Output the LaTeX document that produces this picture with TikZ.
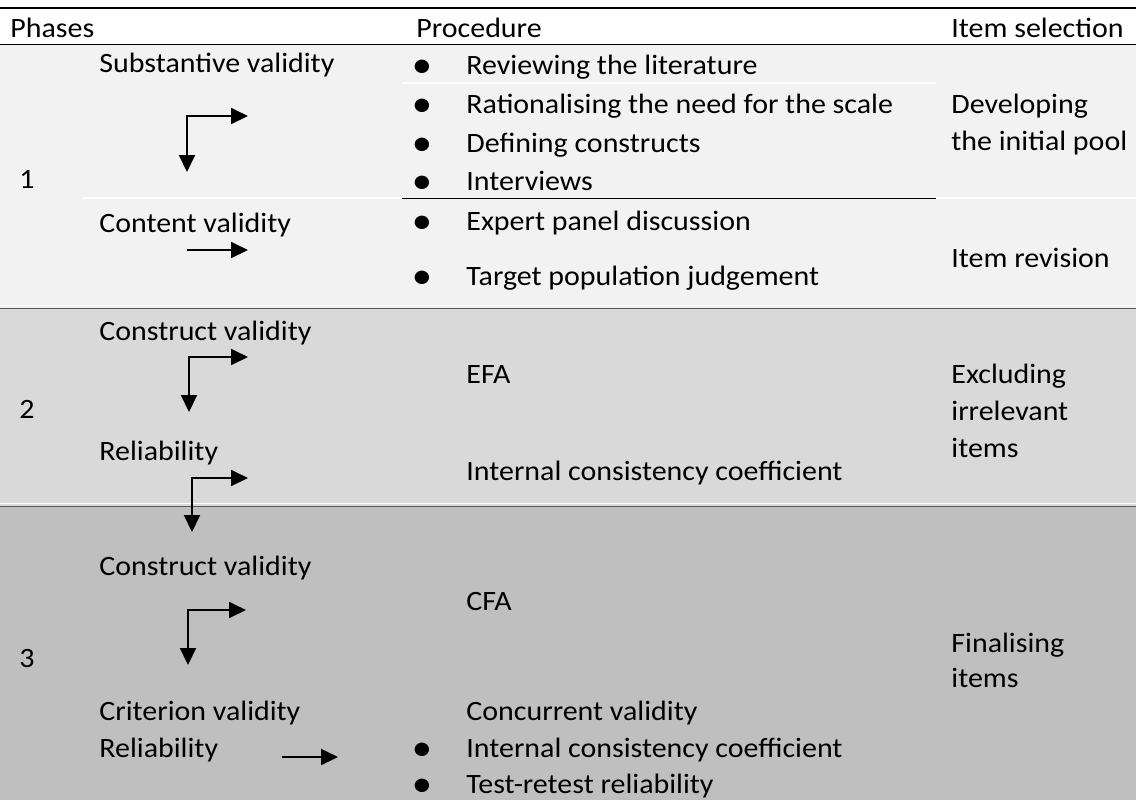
\documentclass[tikz,border=0pt]{standalone}
\usepackage{fontspec}
\setmainfont{Carlito}[FakeStretch=1.07]
\usetikzlibrary{arrows.meta}
\definecolor{rowA}{HTML}{F2F2F2}
\definecolor{rowB}{HTML}{D9D9D9}
\definecolor{rowC}{HTML}{BFBFBF}
\definecolor{rulegray}{HTML}{5A5A5A}

\begin{document}
\begin{tikzpicture}[x=0.5pt,y=-0.5pt,
  lbl/.style={anchor=base west,inner sep=0pt,font=\fontsize{14}{17}\selectfont},
  dotlbl/.style={anchor=base,inner sep=0pt,font=\fontsize{19}{19}\selectfont},
  arr/.style={-{Triangle[length=8.5pt,width=8pt]},line width=1pt},
  barr/.style={{Triangle[length=8.5pt,width=8pt]}-{Triangle[length=8.5pt,width=8pt]},line width=1pt}]
  \useasboundingbox (0,0) rectangle (1136,800);
  % row bands
  \fill[white] (0,0) rectangle (1136,45);
  \fill[rowA] (0,45) rectangle (1136,308);
  \fill[rowB] (0,308) rectangle (1136,506);
  \fill[rowC] (0,506) rectangle (1136,800);
  % rules
  \draw[line width=1pt] (0,7.5) -- (1136,7.5);
  \draw[line width=0.8pt] (0,44.5) -- (1136,44.5);
  \draw[white,line width=0.6pt] (0,305.5) -- (1136,305.5);
  \draw[rulegray,line width=0.8pt] (0,308.5) -- (1136,308.5);
  \draw[white,line width=0.6pt] (0,503.5) -- (1136,503.5);
  \draw[rulegray,line width=0.8pt] (0,506.5) -- (1136,506.5);
  \draw[white,line width=0.6pt] (402,83) -- (936,83);
  \draw[white,line width=0.6pt] (83,198) -- (402,198);
  \draw[white,line width=0.6pt] (936,198) -- (1136,198);
  \draw[line width=0.5pt] (402,198) -- (936,198);
  % header
  \node[lbl] (hPhase) at (10,37) {Phases};
  \node[lbl] (hProc) at (416,37) {Procedure};
  \node[lbl] (hItem) at (951,37) {Item selection};
  % phase numbers
  \node[lbl] (ph1) at (19,188) {1};
  \node[lbl] (ph2) at (19,418) {2};
  \node[lbl] (ph3) at (19,667) {3};
  % validity steps
  \node[lbl] (subst) at (99,72) {Substantive validity};
  \node[lbl] (cont) at (99,232) {Content validity};
  \node[lbl] (constrA) at (99,340) {Construct validity};
  \node[lbl] (relA) at (99,460) {Reliability};
  \node[lbl] (constrB) at (99,575) {Construct validity};
  \node[lbl] (crit) at (99,720) {Criterion validity};
  \node[lbl] (relB) at (99,757) {Reliability};
  % procedures
  \foreach \y/\txt [count=\i] in {74/Reviewing the literature,
      113/Rationalising the need for the scale,152/Defining constructs,
      190/Interviews,230/Expert panel discussion,285/Target population judgement,
      757/Internal consistency coefficient,793/Test-retest reliability}{
    \node[dotlbl] (dot\i) at (422,\y+3) {\textbullet};
    \node[lbl] (proc\i) at (466,\y) {\txt};
  }
  \node[lbl] (efa) at (466,383) {EFA};
  \node[lbl] (icc) at (466,480) {Internal consistency coefficient};
  \node[lbl] (cfa) at (466,610) {CFA};
  \node[lbl] (conc) at (466,720) {Concurrent validity};
  % item selection
  \node[lbl] (devA) at (951,113) {Developing};
  \node[lbl] (devB) at (951,150) {the initial pool};
  \node[lbl] (rev) at (951,267) {Item revision};
  \node[lbl] (exA) at (951,383) {Excluding};
  \node[lbl] (exB) at (951,420) {irrelevant};
  \node[lbl] (exC) at (951,457) {items};
  \node[lbl] (finA) at (951,652) {Finalising};
  \node[lbl] (finB) at (951,687) {items};
  % arrows
  \coordinate (k1) at (187,116); \coordinate (k1r) at (248,116); \coordinate (k1d) at (187,172);
  \coordinate (s1) at (187,250); \coordinate (s1r) at (248,250);
  \coordinate (k2) at (189,357); \coordinate (k2r) at (248,357); \coordinate (k2d) at (189,412);
  \coordinate (k3) at (192,478); \coordinate (k3r) at (248,478); \coordinate (k3d) at (192,532);
  \coordinate (k4) at (188,610); \coordinate (k4r) at (246,610); \coordinate (k4d) at (188,665);
  \coordinate (s2) at (282,757); \coordinate (s2r) at (338,757);
  \foreach \k in {k1,k2,k3,k4}{
    \draw[barr] (\k d) -- (\k) -- (\k r);
  }
  \draw[arr] (s1) -- (s1r);
  \draw[arr] (s2) -- (s2r);
\end{tikzpicture}
\end{document}
